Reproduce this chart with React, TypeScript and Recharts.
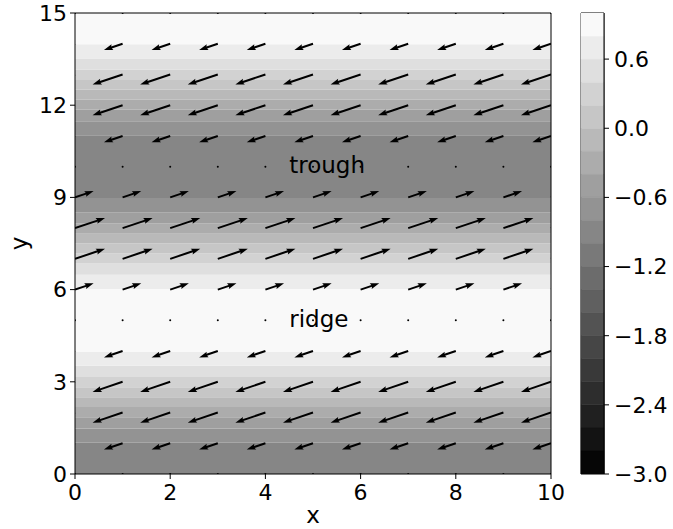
import { ComposedChart, XAxis, YAxis, Scatter, Bar, ReferenceArea, ReferenceDot } from 'recharts';

// axis ticks
const xTicks = [0, 2, 4, 6, 8, 10];
const yTicks = [0, 3, 6, 9, 12, 15];
const cbarTicks = [-3.0, -2.4, -1.8, -1.2, -0.6, 0.0, 0.6];

// contour levels of the filled field (colorbar range)
const contourLevels = [-3.0, -2.8, -2.6, -2.4, -2.2, -2.0, -1.8, -1.6, -1.4, -1.2, -1.0, -0.8, -0.6, -0.4, -0.2, 0.0, 0.2, 0.4, 0.6, 0.8, 1.0];

// horizontal bands: y edges and the lower level of each band
const bandEdges = [0, 1.02, 1.48, 1.85, 2.18, 2.5, 2.82, 3.16, 3.52, 3.98, 6.02, 6.48, 6.85, 7.18, 7.5, 7.82, 8.16, 8.52, 8.98, 11.02, 11.48, 11.85, 12.18, 12.5, 12.82, 13.16, 13.52, 13.98, 15];
const bandLevels = [-1.0, -0.8, -0.6, -0.4, -0.2, 0.0, 0.2, 0.4, 0.6, 0.8, 0.6, 0.4, 0.2, 0.0, -0.2, -0.4, -0.6, -0.8, -1.0, -0.8, -0.6, -0.4, -0.2, 0.0, 0.2, 0.4, 0.6, 0.8];

// quiver grid and wind per row (y = 0..15)
const gridX = [0, 1, 2, 3, 4, 5, 6, 7, 8, 9, 10];
const gridY = [0, 1, 2, 3, 4, 5, 6, 7, 8, 9, 10, 11, 12, 13, 14, 15];
const rowU = [0, -0.59, -0.95, -0.95, -0.59, 0, 0.59, 0.95, 0.95, 0.59, 0, -0.59, -0.95, -0.95, -0.59, 0];
const rowV = [0, -0.2, -0.32, -0.32, -0.2, 0, 0.2, 0.32, 0.32, 0.2, 0, -0.2, -0.32, -0.32, -0.2, 0];

// annotations
const labelText = ['trough', 'ridge'];
const labelX = [4.5, 4.5];
const labelY = [10, 5];

const FONT = '"DejaVu Sans", sans-serif';
const ARROW_SCALE = 31.6;

const LMIN = contourLevels[0];
const LMAX = contourLevels[contourLevels.length - 1];
const STEP = contourLevels[1] - contourLevels[0];

// matplotlib "gray" colormap, sampled at band centre
function grayFor(level: number) {
  const t = (level + STEP / 2 - LMIN) / (LMAX - LMIN);
  const g = Math.round(t * 255);
  return `rgb(${g},${g},${g})`;
}

const bands = bandLevels.map((level, i) => ({ y1: bandEdges[i], y2: bandEdges[i + 1], level }));

const quiverData = gridY.flatMap((y, j) => gridX.map((x) => ({ x, y, u: rowU[j], v: rowV[j] })));

// colorbar: one stacked column, negative segments grow down from 0, positive up from 0
const cbarSegs = contourLevels.slice(0, -1).map((lo, i) => {
  const hi = contourLevels[i + 1];
  return { key: `s${i}`, lo, value: hi <= 0 ? lo - hi : hi - lo };
});
// stacking order: closest to zero first on each side
const cbarOrder = [
  ...cbarSegs.filter((s) => s.value < 0).reverse(),
  ...cbarSegs.filter((s) => s.value > 0),
];
const cbarData = [Object.fromEntries([['name', 'cbar'], ...cbarSegs.map((s) => [s.key, s.value])])];

const fmtCbar = (v: number) => v.toFixed(1).replace('-', '\u2212');

function QuiverArrow(props: any) {
  const { cx, cy, payload } = props;
  const dx = payload.u * ARROW_SCALE;
  const dy = -payload.v * ARROW_SCALE;
  const len = Math.hypot(dx, dy);
  if (len < 0.5) return <circle cx={cx} cy={cy} r={1} fill="#000" />;
  const ang = (Math.atan2(dy, dx) * 180) / Math.PI;
  const w = 1; // half shaft width
  const hl = 9; // head length
  const hal = 8; // head axis length
  const hw = 3; // half head width
  const pts = [[0, -w], [len - hal, -w], [len - hl, -hw], [len, 0], [len - hl, hw], [len - hal, w], [0, w]];
  return (
    <polygon
      points={pts.map((p) => p.join(',')).join(' ')}
      transform={`translate(${cx},${cy}) rotate(${ang})`}
      fill="#000"
    />
  );
}

const XTitle = (props: any) => {
  const { viewBox } = props;
  return (
    <text x={viewBox.x + viewBox.width / 2} y={viewBox.y + 49} textAnchor="middle" fontSize={23} fontFamily={FONT} fill="#000">
      x
    </text>
  );
};

const YTitle = (props: any) => {
  const { viewBox } = props;
  const x = viewBox.x + 12;
  const y = viewBox.y + viewBox.height / 2;
  return (
    <text x={x} y={y} transform={`rotate(-90, ${x}, ${y})`} textAnchor="middle" fontSize={23} fontFamily={FONT} fill="#000">
      y
    </text>
  );
};

const tickStyle = { fontSize: 22, fill: '#000', fontFamily: FONT };
const lineStyle = { stroke: '#000', strokeWidth: 1 };

export default function App() {
  return (
    <div style={{ position: 'absolute', left: 0, top: 0, width: 673, height: 529, background: '#fff' }}>
      <div style={{ position: 'absolute', left: 0, top: 0 }}>
        <ComposedChart width={600} height={529} margin={{ top: 12, right: 48, bottom: 15, left: 15 }}>
          <XAxis
            xAxisId="b"
            dataKey="x"
            type="number"
            domain={[0, 10]}
            ticks={xTicks}
            allowDataOverflow
            height={40}
            tickSize={5}
            tickMargin={5}
            tick={tickStyle}
            axisLine={lineStyle}
            tickLine={lineStyle}
            label={XTitle}
          />
          <XAxis
            xAxisId="t"
            orientation="top"
            type="number"
            domain={[0, 10]}
            ticks={xTicks}
            allowDataOverflow
            height={1}
            tickSize={5}
            tick={false}
            axisLine={lineStyle}
            tickLine={lineStyle}
          />
          <YAxis
            yAxisId="l"
            dataKey="y"
            type="number"
            domain={[0, 15]}
            ticks={yTicks}
            allowDataOverflow
            width={60}
            tickSize={5}
            tickMargin={3}
            tick={tickStyle}
            axisLine={lineStyle}
            tickLine={lineStyle}
            label={YTitle}
          />
          <YAxis
            yAxisId="r"
            orientation="right"
            type="number"
            domain={[0, 15]}
            ticks={yTicks}
            allowDataOverflow
            width={1}
            tickSize={5}
            tick={false}
            axisLine={lineStyle}
            tickLine={lineStyle}
          />
          {bands.map((b, i) => (
            <ReferenceArea
              key={`band-${i}`}
              xAxisId="b"
              yAxisId="l"
              x1={0}
              x2={10}
              y1={b.y1}
              y2={b.y2}
              fill={grayFor(b.level)}
              fillOpacity={1}
              stroke="none"
              ifOverflow="visible"
            />
          ))}
          <Scatter xAxisId="b" yAxisId="l" data={quiverData} shape={QuiverArrow} isAnimationActive={false} />
          {labelText.map((t, i) => (
            <ReferenceDot
              key={`lbl-${i}`}
              xAxisId="b"
              yAxisId="l"
              x={labelX[i]}
              y={labelY[i]}
              ifOverflow="visible"
              shape={(p: any) => (
                <text x={p.cx} y={p.cy + 6.6} textAnchor="start" fontSize={23} fontFamily={FONT} fill="#000">
                  {t}
                </text>
              )}
            />
          ))}
        </ComposedChart>
      </div>
      <div style={{ position: 'absolute', left: 560, top: 0 }}>
        <ComposedChart
          width={113}
          height={529}
          data={cbarData}
          stackOffset="sign"
          barCategoryGap={0}
          barGap={0}
          margin={{ top: 13, right: 0, bottom: 55, left: 21 }}
        >
          <XAxis xAxisId="c" dataKey="name" type="category" hide />
          <YAxis
            yAxisId="c"
            orientation="right"
            type="number"
            domain={[LMIN, LMAX]}
            ticks={cbarTicks}
            tickFormatter={fmtCbar}
            allowDataOverflow
            width={69}
            tickSize={5}
            tickMargin={5}
            tick={tickStyle}
            axisLine={lineStyle}
            tickLine={lineStyle}
          />
          {cbarOrder.map((s) => (
            <Bar
              key={s.key}
              xAxisId="c"
              yAxisId="c"
              dataKey={s.key}
              stackId="cb"
              fill={grayFor(s.lo)}
              stroke={grayFor(s.lo)}
              strokeWidth={0.5}
              isAnimationActive={false}
            />
          ))}
          <ReferenceArea
            xAxisId="c"
            yAxisId="c"
            y1={LMIN}
            y2={LMAX}
            fill="none"
            stroke="#000"
            strokeWidth={1}
            ifOverflow="visible"
          />
        </ComposedChart>
      </div>
    </div>
  );
}
